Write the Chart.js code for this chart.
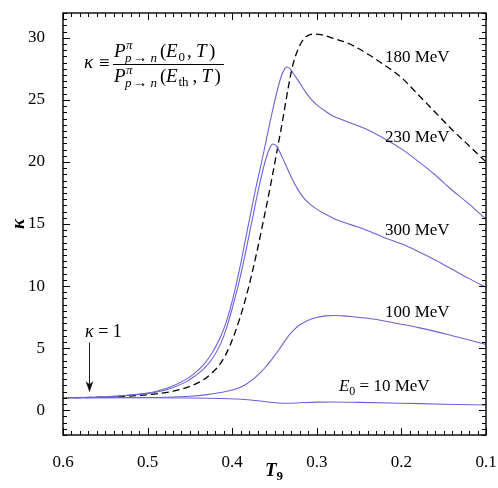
<!DOCTYPE html>
<html><head><meta charset="utf-8">
<script src="https://cdn.jsdelivr.net/npm/chart.js@4/dist/chart.umd.min.js"></script>
<style>html,body{margin:0;padding:0;background:#fff;}#wrap{width:498px;height:488px;}</style>
</head><body><div id="wrap"><canvas id="c" width="498" height="488"></canvas></div>
<script>
const xTicks = [0.6, 0.5, 0.4, 0.3, 0.2, 0.1];
const yTicks = [0, 5, 10, 15, 20, 25, 30];

// E0 = 10 MeV
const t10 = [0.6, 0.5, 0.45, 0.414, 0.39, 0.37, 0.355, 0.345, 0.335, 0.32, 0.3, 0.28, 0.25, 0.2, 0.15, 0.1];
const k10 = [1.0, 1.0, 0.98, 0.94, 0.88, 0.76, 0.64, 0.58, 0.56, 0.6, 0.65, 0.66, 0.63, 0.56, 0.48, 0.42];
// 100 MeV
const t100 = [0.6, 0.55, 0.5, 0.47, 0.45, 0.43, 0.414, 0.4, 0.387, 0.377, 0.367, 0.359, 0.351, 0.343, 0.336, 0.328, 0.32, 0.31, 0.3, 0.29, 0.28, 0.27, 0.26, 0.24, 0.22, 0.2, 0.18, 0.16, 0.14, 0.12, 0.1];
const k100 = [1.0, 1.0, 1.02, 1.06, 1.12, 1.25, 1.42, 1.62, 1.95, 2.4, 3.0, 3.6, 4.3, 5.05, 5.75, 6.4, 6.88, 7.25, 7.47, 7.6, 7.63, 7.6, 7.55, 7.4, 7.18, 6.92, 6.65, 6.35, 6.0, 5.65, 5.3];
// 180 MeV (dashed)
const t180 = [0.6, 0.55, 0.513, 0.493, 0.474, 0.454, 0.434, 0.424, 0.414, 0.403, 0.391, 0.381, 0.371, 0.363, 0.355, 0.347, 0.34, 0.334, 0.328, 0.322, 0.316, 0.31, 0.304, 0.295, 0.28, 0.261, 0.24, 0.222, 0.2, 0.182, 0.16, 0.143, 0.12, 0.1];
const k180 = [1.0, 1.05, 1.18, 1.29, 1.47, 1.82, 2.45, 3.0, 3.75, 5.15, 7.4, 9.8, 12.7, 15.3, 18.0, 20.9, 23.5, 25.9, 27.9, 29.1, 29.85, 30.2, 30.3, 30.25, 29.95, 29.5, 28.7, 27.9, 26.8, 25.55, 24.0, 22.8, 21.3, 20.0];
// 230 MeV
const t230 = [0.6, 0.55, 0.513, 0.493, 0.474, 0.454, 0.444, 0.434, 0.424, 0.414, 0.407, 0.4, 0.392, 0.383, 0.373, 0.363, 0.355, 0.348, 0.342, 0.338, 0.335, 0.331, 0.326, 0.32, 0.313, 0.306, 0.3, 0.29, 0.281, 0.27, 0.261, 0.24, 0.222, 0.2, 0.182, 0.16, 0.143, 0.12, 0.1];
const k230 = [1.0, 1.07, 1.28, 1.47, 1.85, 2.5, 3.0, 3.65, 4.58, 5.88, 7.11, 8.78, 11.14, 14.2, 17.6, 20.7, 23.3, 25.4, 26.9, 27.5, 27.65, 27.45, 26.95, 26.35, 25.6, 25.0, 24.6, 24.1, 23.7, 23.4, 23.15, 22.6, 21.95, 21.05, 20.15, 18.95, 17.9, 16.6, 15.4];
// 300 MeV
const t300 = [0.6, 0.55, 0.513, 0.493, 0.474, 0.454, 0.444, 0.434, 0.424, 0.414, 0.407, 0.4, 0.392, 0.383, 0.375, 0.367, 0.36, 0.355, 0.352, 0.348, 0.343, 0.337, 0.33, 0.323, 0.316, 0.308, 0.3, 0.29, 0.28, 0.26, 0.241, 0.22, 0.2, 0.182, 0.16, 0.14, 0.12, 0.1];
const k300 = [1.0, 1.06, 1.24, 1.4, 1.72, 2.3, 2.75, 3.3, 4.1, 5.3, 6.55, 8.2, 10.3, 13.1, 15.8, 18.4, 20.3, 21.2, 21.45, 21.3, 20.7, 19.8, 18.75, 17.85, 17.15, 16.6, 16.2, 15.8, 15.45, 14.95, 14.5, 13.9, 13.4, 12.85, 12.1, 11.35, 10.6, 9.9];

const SERIF = '"Liberation Serif", "DejaVu Serif", serif';
const BLUE = '#6b63d9';
const pts = (t, k) => t.map((x, i) => ({x: x, y: k[i]}));

function run(ctx, x, y, text, font) {
  ctx.font = font; ctx.fillText(text, x, y);
  return x + ctx.measureText(text).width;
}
const F = (st, sz) => st + ' ' + sz + 'px ' + SERIF;

function drawP(ctx, base, sub, xs) {
  run(ctx, 114, base, 'P', F('italic', 19));
  run(ctx, 126, base - 8, '\u03c0', F('italic', 13));
  run(ctx, 125, base + 5, 'p', F('italic', 13));
  run(ctx, 132.5, base + 5, '\u2192', F('normal', 15));
  run(ctx, 150.5, base + 5, 'n', F('italic', 13));
  run(ctx, 160, base, '(', F('normal', 19));
  run(ctx, 166, base, 'E', F('italic', 19));
  run(ctx, 178.5, base + 4, sub, F('normal', 13));
  run(ctx, xs[0], base, ',', F('normal', 19));
  run(ctx, xs[1], base, 'T', F('italic', 19));
  return run(ctx, xs[2], base, ')', F('normal', 19));
}

const annot = {
  id: 'annot',
  afterDraw(chart) {
    const ctx = chart.ctx, a = chart.chartArea, xs = chart.scales.x, ys = chart.scales.y;
    ctx.save();
    ctx.strokeStyle = '#000'; ctx.lineWidth = 1;
    ctx.beginPath();
    for (let i = 10; i <= 60; i++) {
      const px = Math.round(xs.getPixelForValue(i / 100)) + 0.5;
      const L = i % 10 === 0 ? 7 : 4;
      ctx.moveTo(px, a.bottom); ctx.lineTo(px, a.bottom - L);
      ctx.moveTo(px, a.top); ctx.lineTo(px, a.top + L);
    }
    for (let j = -4; j <= 64; j++) {
      const py = Math.round(ys.getPixelForValue(j / 2)) + 0.5;
      const L = j % 10 === 0 ? 7 : 4;
      ctx.moveTo(a.left, py); ctx.lineTo(a.left + L, py);
      ctx.moveTo(a.right, py); ctx.lineTo(a.right - L, py);
    }
    ctx.stroke();
    ctx.lineWidth = 1.4;
    ctx.strokeRect(a.left, a.top, a.right - a.left, a.bottom - a.top);

    ctx.fillStyle = '#000';
    ctx.textBaseline = 'alphabetic';
    ctx.textAlign = 'left';
    const lab = (txt, tx, ky) => run(ctx, xs.getPixelForValue(tx), ys.getPixelForValue(ky), txt, F('normal', 17));
    lab('180 MeV', 0.2195, 28.08);
    lab('230 MeV', 0.2195, 21.64);
    lab('300 MeV', 0.2195, 14.12);
    lab('100 MeV', 0.2195, 7.53);
    let ex = xs.getPixelForValue(0.2738), ey = ys.getPixelForValue(1.55);
    ex = run(ctx, ex, ey, 'E', F('italic', 17));
    ex = run(ctx, ex, ey + 4, '0', F('normal', 12));
    run(ctx, ex, ey, ' = 10 MeV', F('normal', 17));
    let kx = xs.getPixelForValue(0.574), ky = ys.getPixelForValue(5.9);
    kx = run(ctx, kx, ky, '\u03ba', F('italic', 18));
    run(ctx, kx, ky, ' = 1', F('normal', 18));
    const ax = Math.round(xs.getPixelForValue(0.5697)) + 0.5;
    const y1 = ys.getPixelForValue(5.45), tip = ys.getPixelForValue(1.45);
    ctx.strokeStyle = '#222'; ctx.fillStyle = '#111'; ctx.lineWidth = 1;
    ctx.beginPath(); ctx.moveTo(ax, y1); ctx.lineTo(ax, tip - 6); ctx.stroke();
    ctx.beginPath(); ctx.moveTo(ax, tip); ctx.lineTo(ax - 3.8, tip - 11); ctx.lineTo(ax, tip - 8); ctx.lineTo(ax + 3.8, tip - 11); ctx.closePath(); ctx.fill();
    ctx.fillStyle = '#000';
    // formula
    run(ctx, 84, 68, '\u03ba', F('italic', 19));
    run(ctx, 99, 68.5, '\u2261', F('normal', 19));
    drawP(ctx, 57, '0', [187, 196, 209]);
    drawP(ctx, 81.5, 'th', [192.5, 201.5, 214.5]);
    ctx.strokeStyle = '#000'; ctx.lineWidth = 1;
    ctx.beginPath(); ctx.moveTo(113, 64.5); ctx.lineTo(224, 64.5); ctx.stroke();
    // axis titles
    let tx = run(ctx, 265, 476, 'T', F('italic bold', 19));
    run(ctx, tx, 480, '9', F('bold', 13));
    ctx.save();
    ctx.translate(24, 224); ctx.rotate(-Math.PI / 2);
    ctx.textAlign = 'center';
    ctx.font = F('italic bold', 19); ctx.fillText('\u03ba', 0, 0);
    ctx.restore();
    ctx.restore();
  }
};

const common = {pointRadius: 0, borderWidth: 1.1, fill: false, cubicInterpolationMode: 'monotone'};
new Chart(document.getElementById('c'), {
  type: 'line',
  data: {
    datasets: [
      Object.assign({label: 'E0 = 10 MeV', data: pts(t10, k10), borderColor: BLUE}, common),
      Object.assign({label: '100 MeV', data: pts(t100, k100), borderColor: BLUE}, common),
      Object.assign({label: '230 MeV', data: pts(t230, k230), borderColor: BLUE}, common),
      Object.assign({label: '300 MeV', data: pts(t300, k300), borderColor: BLUE}, common),
      Object.assign({label: '180 MeV', data: pts(t180, k180), borderColor: '#000'}, common, {borderDash: [7, 4], borderWidth: 1.3})
    ]
  },
  options: {
    responsive: false, animation: false, devicePixelRatio: 1,
    layout: {padding: {top: 13, right: 12, left: 0, bottom: 0}},
    plugins: {legend: {display: false}, tooltip: {enabled: false}},
    scales: {
      x: {
        type: 'linear', reverse: true, min: 0.1, max: 0.6,
        afterBuildTicks: s => { s.ticks = xTicks.map(v => ({value: v})); },
        afterFit: s => { s.height = 53; s.paddingLeft = 0; s.paddingRight = 0; },
        grid: {display: false}, border: {display: false},
        ticks: {font: {family: SERIF, size: 17}, color: '#000', padding: 9, maxRotation: 0, autoSkip: false,
                callback: v => Number(v).toFixed(1)}
      },
      y: {
        type: 'linear', min: -2, max: 32,
        afterBuildTicks: s => { s.ticks = yTicks.map(v => ({value: v})); },
        afterFit: s => { s.width = 63; s.paddingTop = 0; s.paddingBottom = 0; },
        grid: {display: false}, border: {display: false},
        ticks: {font: {family: SERIF, size: 17}, color: '#000', padding: 10, autoSkip: false,
                callback: v => String(v)}
      }
    }
  },
  plugins: [annot]
});
</script>
</body></html>
